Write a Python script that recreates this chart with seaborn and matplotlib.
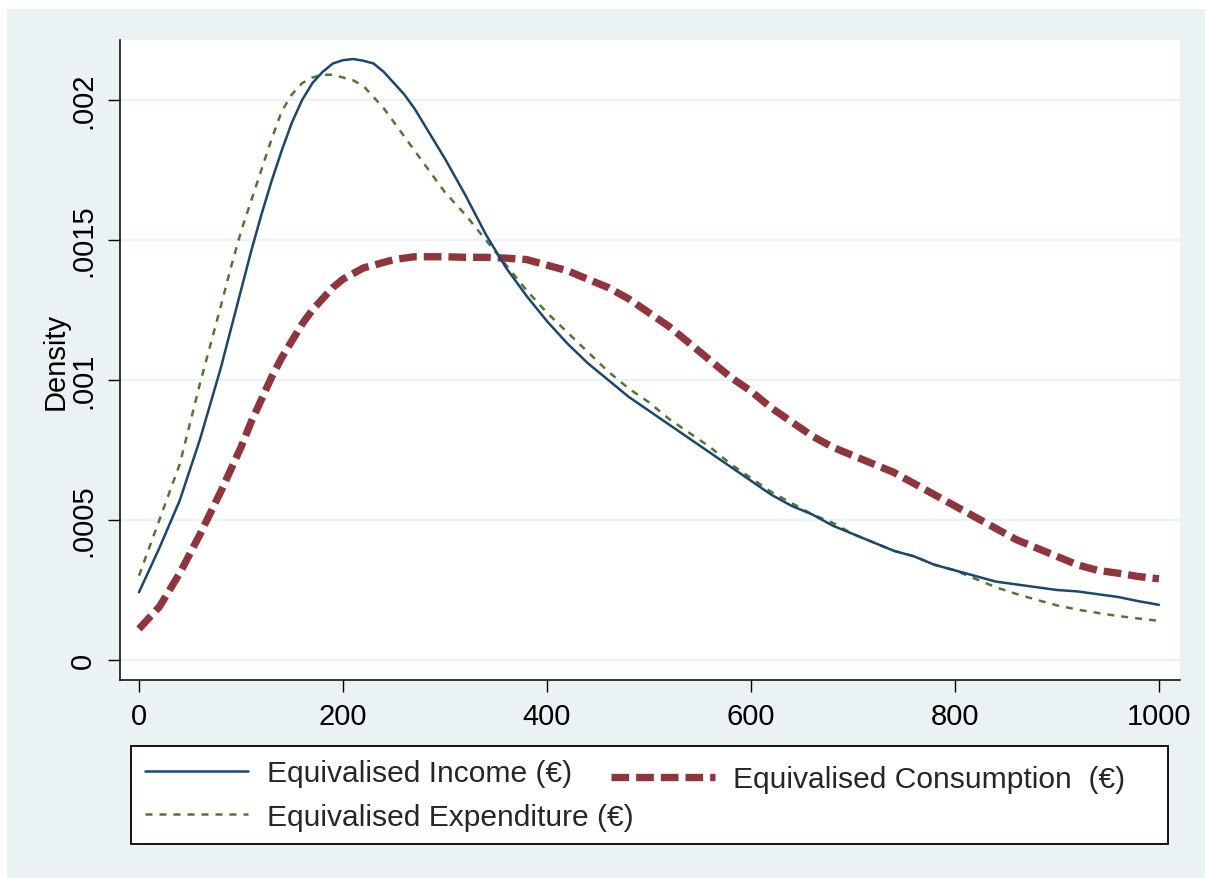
import numpy as np
import pandas as pd
import matplotlib
matplotlib.use("Agg")
import matplotlib.pyplot as plt
from matplotlib.patches import Rectangle
from matplotlib.lines import Line2D
import seaborn as sns

# ---------------- data ----------------
x_values = [0, 20, 40, 60, 80, 90, 100, 110, 120, 130, 140, 150, 160, 170, 180, 190,
            200, 210, 220, 230, 240, 250, 260, 270, 280, 290, 300, 320, 340, 360,
            380, 400, 420, 440, 460, 480, 500, 520, 540, 560, 580, 600, 620, 640,
            660, 680, 700, 720, 740, 760, 780, 800, 820, 840, 860, 880, 900, 920,
            940, 960, 980, 1000]

income_density = [0.000242, 0.00040, 0.00057, 0.00079, 0.00104, 0.00118, 0.00132,
                  0.00146, 0.00159, 0.00171, 0.00182, 0.00192, 0.00200, 0.00206,
                  0.00210, 0.00213, 0.002142, 0.002146, 0.00214, 0.00213, 0.00210,
                  0.00206, 0.00202, 0.00197, 0.00191, 0.00185, 0.00179, 0.00166,
                  0.00152, 0.00140, 0.00130, 0.00121, 0.00113, 0.00106, 0.00100,
                  0.00094, 0.00089, 0.00084, 0.00079, 0.00074, 0.00069, 0.00064,
                  0.00059, 0.00055, 0.00052, 0.00048, 0.00045, 0.00042, 0.00039,
                  0.00037, 0.00034, 0.00032, 0.00030, 0.00028, 0.00027, 0.00026,
                  0.00025, 0.000245, 0.000235, 0.000225, 0.00021, 0.000197]

expenditure_density = [0.000301, 0.00050, 0.00070, 0.00099, 0.00126, 0.00140, 0.00153,
                       0.00164, 0.00175, 0.00186, 0.00196, 0.00202, 0.00206, 0.00208,
                       0.00209, 0.00209, 0.00208, 0.00207, 0.00205, 0.00201, 0.00197,
                       0.00192, 0.00187, 0.00182, 0.00177, 0.00172, 0.00167, 0.00159,
                       0.00150, 0.00141, 0.00132, 0.00124, 0.00117, 0.00110, 0.00103,
                       0.00097, 0.00092, 0.00086, 0.00081, 0.00076, 0.00070, 0.00065,
                       0.00060, 0.00056, 0.00052, 0.00049, 0.00045, 0.00042, 0.00039,
                       0.00037, 0.00034, 0.00032, 0.00029, 0.00026, 0.000236, 0.000215,
                       0.000195, 0.000180, 0.000168, 0.000157, 0.000148, 0.00014]

consumption_density = [0.000111, 0.00019, 0.00031, 0.00045, 0.00060, 0.00068, 0.00076,
                       0.00085, 0.00093, 0.00101, 0.00108, 0.00114, 0.00120, 0.00125,
                       0.00129, 0.00133, 0.00136, 0.00138, 0.00140, 0.00141, 0.00142,
                       0.00143, 0.001435, 0.00144, 0.00144, 0.00144, 0.00144, 0.001438,
                       0.001438, 0.001435, 0.00143, 0.00141, 0.00139, 0.00136,
                       0.00133, 0.00129, 0.00124, 0.00119, 0.00113, 0.00107, 0.00101,
                       0.00096, 0.00090, 0.00085, 0.00080, 0.00076, 0.00073, 0.00070,
                       0.00067, 0.00063, 0.00059, 0.00055, 0.00051, 0.00047, 0.00043,
                       0.00040, 0.00037, 0.00034, 0.00032, 0.00031, 0.000298, 0.00029]

series_labels = ["Equivalised Income (€)", "Equivalised Expenditure (€)",
                 "Equivalised Consumption  (€)"]
x_ticks = [0, 200, 400, 600, 800, 1000]
x_tick_labels = ["0", "200", "400", "600", "800", "1000"]
y_ticks = [0, 0.0005, 0.001, 0.0015, 0.002]
y_tick_labels = ["0", ".0005", ".001", ".0015", ".002"]
y_title = "Density"

# ---------------- style ----------------
sns.set_theme(style="white")
plt.rcParams["font.family"] = ["Liberation Sans", "DejaVu Sans"]

W, H = 1205, 879
fig = plt.figure(figsize=(W / 100, H / 100), dpi=100)
fig.patch.set_facecolor("white")
bg = "#EAF2F3"
fig.patches.append(Rectangle((7 / W, 0), 1 - 7 / W, 1 - 10 / H, transform=fig.transFigure,
                             facecolor=bg, edgecolor="none", zorder=-10))

ax = fig.add_axes([120 / W, 1 - 681 / H, 1060 / W, 640 / H])
ax.set_facecolor("white")

navy = "#1a476f"
green = "#55752f"
maroon = "#90353b"

df = pd.DataFrame({"x": x_values, "income": income_density,
                   "expenditure": expenditure_density, "consumption": consumption_density})

sns.lineplot(data=df, x="x", y="consumption", ax=ax, color=maroon, linewidth=5.3,
             zorder=3, legend=False)
ax.lines[-1].set_dashes((2.4, 0.95))
ax.lines[-1].set_dash_capstyle("butt")
sns.lineplot(data=df, x="x", y="expenditure", ax=ax, color=green, linewidth=1.8,
             zorder=4, legend=False)
ax.lines[-1].set_dashes((2.8, 2.8))
sns.lineplot(data=df, x="x", y="income", ax=ax, color=navy, linewidth=1.8,
             zorder=5, legend=False)

ax.set_xlim(-18.6, 1020.6)
ax.set_ylim(-0.0000714, 0.002214)

ax.set_xticks(x_ticks)
ax.set_xticklabels(x_tick_labels)
ax.set_yticks(y_ticks)
ax.set_yticklabels(y_tick_labels)

ax.grid(False)
ax.yaxis.grid(True, color=bg, linewidth=1.6)
ax.set_axisbelow(True)

for s in ["top", "right"]:
    ax.spines[s].set_visible(False)
for s in ["left", "bottom"]:
    ax.spines[s].set_color("black")
    ax.spines[s].set_linewidth(1.1)

ax.tick_params(axis="both", which="major", direction="out", length=8.5, width=1.0,
               color="black", labelsize=21, labelcolor="black", left=True, bottom=True)
ax.tick_params(axis="x", pad=7)
ax.tick_params(axis="y", pad=8)
for lab in ax.get_yticklabels():
    lab.set_rotation(90)
    lab.set_va("center")
    lab.set_ha("right")

ax.set_xlabel("")
ax.set_ylabel(y_title, fontsize=21, color="black")
ax.yaxis.label.set_rotation_mode("default")
ax.yaxis.label.set_va("center")
ax.yaxis.label.set_ha("center")
ax.yaxis.set_label_coords(-0.061, 0.5)

# ---------------- legend ----------------
h_inc = Line2D([], [], color=navy, linewidth=1.8)
h_exp = Line2D([], [], color=green, linewidth=1.8, dashes=(2.8, 2.8))
h_con = Line2D([], [], color=maroon, linewidth=5.3, dashes=(2.4, 0.95),
               dash_capstyle="butt")

lfs = 21.6
leg1 = fig.legend([h_inc, h_exp], series_labels[:2],
                  bbox_to_anchor=(131 / W, 1 - 845 / H, 1037 / W, 98 / H),
                  loc="upper left", mode="expand", ncol=1, fontsize=lfs,
                  frameon=True, fancybox=False, edgecolor="black", facecolor="white",
                  framealpha=1, handlelength=3.45, handletextpad=0.62,
                  borderpad=0.45, labelspacing=0.5, borderaxespad=0)
leg1.get_frame().set_linewidth(1.3)

leg2 = fig.legend([h_con], series_labels[2:],
                  bbox_to_anchor=(602 / W, 1 - 757 / H),
                  loc="upper left", ncol=1, fontsize=lfs,
                  frameon=False, handlelength=3.45, handletextpad=0.62,
                  borderpad=0.3, borderaxespad=0)

fig.savefig("out.png", dpi=100, facecolor=fig.get_facecolor())
